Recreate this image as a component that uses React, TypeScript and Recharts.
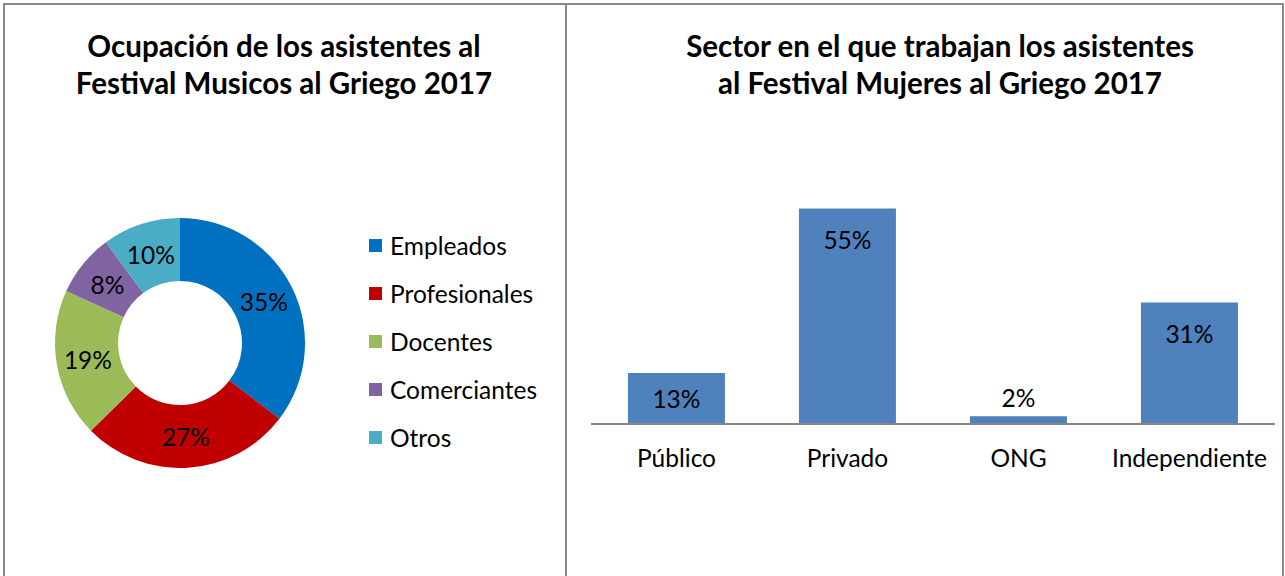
import React from "react";
import { PieChart, Pie, Cell, Legend, BarChart, Bar, XAxis, YAxis, LabelList } from "recharts";

const pieTitle = ["Ocupación de los asistentes al", "Festival Musicos al Griego 2017"];
const pieCategories = ["Empleados", "Profesionales", "Docentes", "Comerciantes", "Otros"];
const pieValues = [35, 27, 19, 8, 10];
const pieColors = ["#0070C0", "#C00000", "#9BBB59", "#8064A2", "#4BACC6"];

const barTitle = ["Sector en el que trabajan los asistentes", "al Festival Mujeres al Griego 2017"];
const barCategories = ["Público", "Privado", "ONG", "Independiente"];
const barValues = [13, 55, 2, 31];
const barColor = "#4F81BD";

const FONT = "Lato, 'Open Sans', sans-serif";
const LABEL_SIZE = 24.5;

const pieData = pieCategories.map((name, i) => ({ name, value: pieValues[i] }));
const barData = barCategories.map((name, i) => ({ name, value: barValues[i] }));

const RAD = Math.PI / 180;

const renderPieLabel = (props: any) => {
  const { cx, cy, midAngle, innerRadius, outerRadius, value } = props;
  const r = (innerRadius + outerRadius) / 2;
  const x = cx + r * Math.cos(-midAngle * RAD);
  const y = cy + r * Math.sin(-midAngle * RAD);
  return (
    <text x={x} y={y} textAnchor="middle" dominantBaseline="central" fill="#000" fontSize={LABEL_SIZE} fontFamily={FONT}>
      {value}%
    </text>
  );
};

const renderLegend = () => {
  return (
    <div style={{ fontFamily: FONT, fontSize: LABEL_SIZE, color: "#000" }}>
      {pieCategories.map((name, i) => (
        <div key={name} style={{ display: "flex", alignItems: "center", height: 48 }}>
          <span style={{ display: "inline-block", width: 13, height: 13, background: pieColors[i], marginRight: 8 }} />
          <span>{name}</span>
        </div>
      ))}
    </div>
  );
};

const renderBarLabel = (props: any) => {
  const { x, y, width, height, value } = props;
  const cxp = x + width / 2;
  let ty: number;
  if (height < 30) {
    ty = y - 19;
  } else {
    ty = Math.min(y + 31, y + height / 2);
  }
  return (
    <text x={cxp} y={ty} textAnchor="middle" dominantBaseline="central" fill="#000" fontSize={LABEL_SIZE} fontFamily={FONT}>
      {value}%
    </text>
  );
};

const titleStyle: React.CSSProperties = {
  position: "absolute",
  fontFamily: FONT,
  fontWeight: 700,
  fontSize: 29.5,
  lineHeight: "37px",
  color: "#000",
  textAlign: "center",
  whiteSpace: "nowrap",
};

export default function App() {
  return (
    <div style={{ position: "fixed", left: 0, top: 0, width: 1285, height: 576, overflow: "hidden", background: "#fff" }}>
      <div style={{ position: "absolute", left: 3, top: 3, width: 560, height: 640, border: "2px solid #8a8a8a" }} />
      <div style={{ position: "absolute", left: 565, top: 3, width: 715, height: 640, border: "2px solid #8a8a8a" }} />

      <div style={{ ...titleStyle, left: 0, width: 568, top: 27 }}>
        {pieTitle.map((t, i) => (
          <div key={i}>{t}</div>
        ))}
      </div>
      <div style={{ ...titleStyle, left: 568, width: 744, top: 27 }}>
        {barTitle.map((t, i) => (
          <div key={i}>{t}</div>
        ))}
      </div>

      <div style={{ position: "absolute", left: 0, top: 0 }}>
        <PieChart width={566} height={576} margin={{ top: 0, right: 0, bottom: 0, left: 0 }}>
          <Pie
            data={pieData}
            dataKey="value"
            nameKey="name"
            cx={180}
            cy={343}
            innerRadius={62}
            outerRadius={125}
            startAngle={90}
            endAngle={-270}
            stroke="none"
            label={renderPieLabel}
            labelLine={false}
            isAnimationActive={false}
          >
            {pieData.map((d, i) => (
              <Cell key={d.name} fill={pieColors[i]} />
            ))}
          </Pie>
          <Legend
            layout="vertical"
            content={renderLegend}
            wrapperStyle={{ position: "absolute", left: 369, top: 221, width: 195 }}
          />
        </PieChart>
      </div>

      <div style={{ position: "absolute", left: 568, top: 0 }}>
        <BarChart
          width={717}
          height={576}
          data={barData}
          margin={{ top: 189, right: 10, bottom: 122, left: 23 }}
          barCategoryGap="21.6%"
        >
          <XAxis
            dataKey="name"
            axisLine={{ stroke: "#868686", strokeWidth: 2 }}
            tickLine={false}
            tick={{ fill: "#000", fontSize: LABEL_SIZE, fontFamily: FONT }}
            tickMargin={20}
            interval={0}
          />
          <YAxis hide domain={[0, 60]} />
          <Bar dataKey="value" fill={barColor} isAnimationActive={false}>
            <LabelList dataKey="value" content={renderBarLabel} />
          </Bar>
        </BarChart>
      </div>
    </div>
  );
}
